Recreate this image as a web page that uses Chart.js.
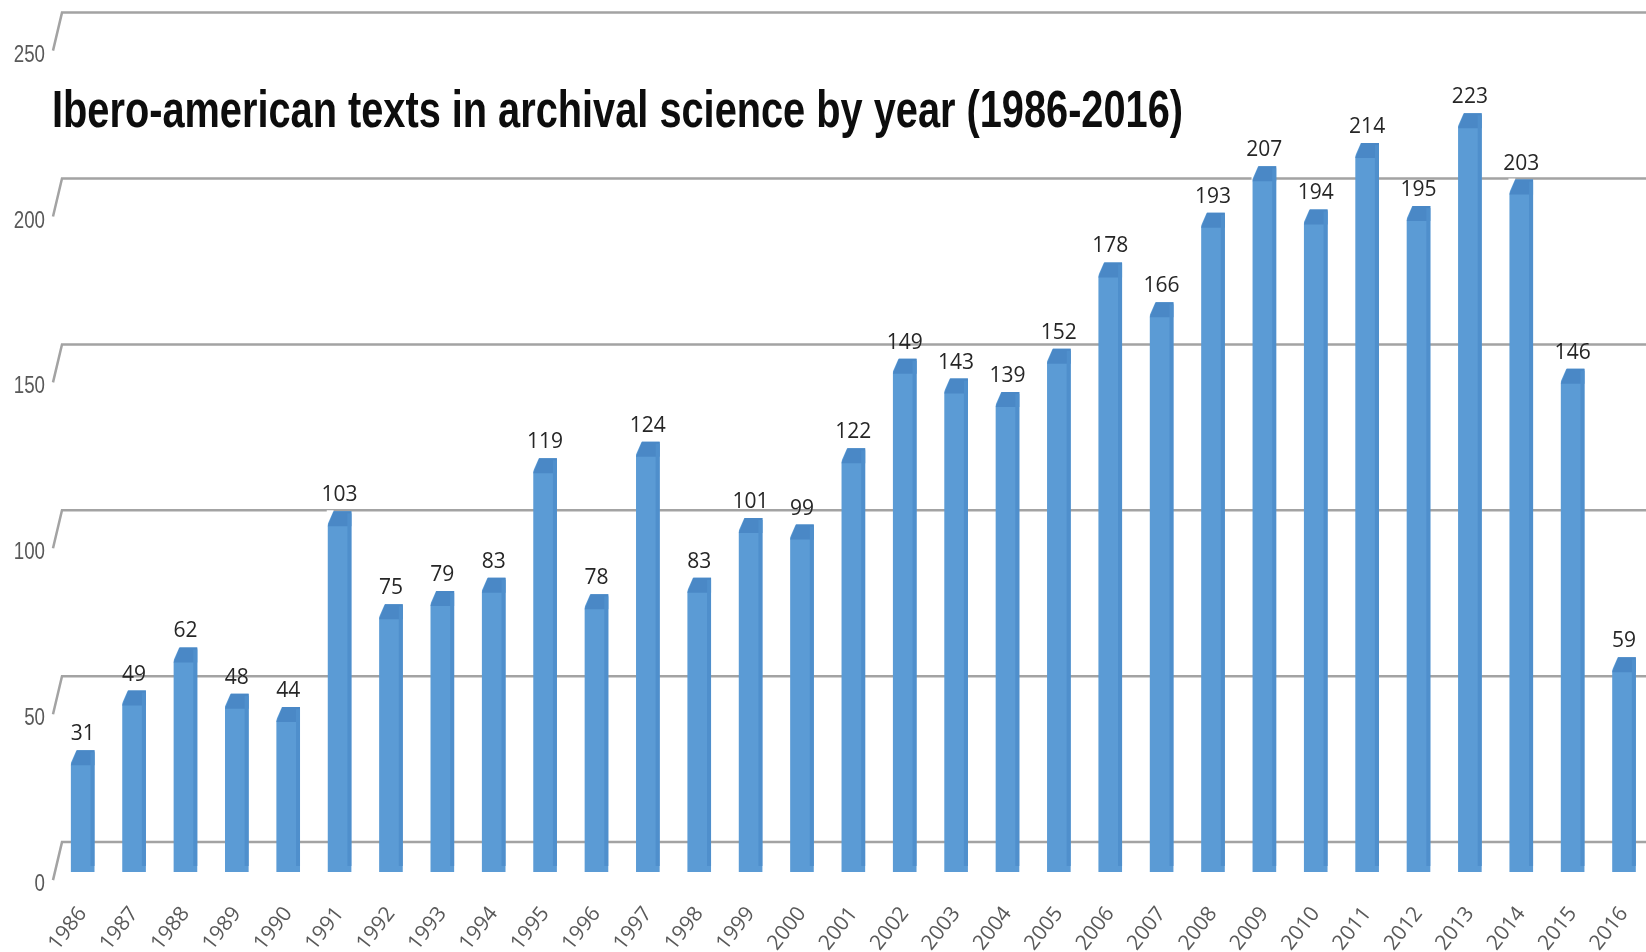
<!DOCTYPE html>
<html lang="en">
<head>
  <meta charset="UTF-8">
  <title>Ibero-american texts in archival science by year</title>
  <script src="https://cdn.jsdelivr.net/npm/chart.js"></script>
  <style>
    html, body { margin: 0; padding: 0; background: #fff; overflow: hidden; }
    #wrap { position: relative; width: 1666px; height: 952px; }
  </style>
</head>
<body>
  <div id="wrap"><canvas id="textsChart"></canvas></div>

  <script>
    // data
    const chartTitle = 'Ibero-american texts in archival science by year (1986-2016)';
    const years = ['1986', '1987', '1988', '1989', '1990', '1991', '1992', '1993', '1994', '1995',
                   '1996', '1997', '1998', '1999', '2000', '2001', '2002', '2003', '2004', '2005',
                   '2006', '2007', '2008', '2009', '2010', '2011', '2012', '2013', '2014', '2015', '2016'];
    const texts = [31, 49, 62, 48, 44, 103, 75, 79, 83, 119,
                   78, 124, 83, 101, 99, 122, 149, 143, 139, 152,
                   178, 166, 193, 207, 194, 214, 195, 223, 203, 146, 59];
    const yTicks = [0, 50, 100, 150, 200, 250];

    const FRONT = '#5b9bd5';
    const CAP = '#4a88c6';
    const SIDE = '#4f8fcc';

    // back wall gridlines, drawn like the 3D chart (slanted stub on the left)
    const wallPlugin = {
      id: 'wall',
      beforeDatasetsDraw(chart) {
        const { ctx, scales: { y }, width } = chart;
        ctx.save();
        ctx.strokeStyle = '#a3a3a3';
        ctx.lineWidth = 2.5;
        yTicks.forEach(v => {
          const yg = y.getPixelForValue(v) - 11;
          ctx.beginPath();
          ctx.moveTo(53, yg + 38);
          ctx.lineTo(62, yg);
          ctx.lineTo(width, yg);
          ctx.stroke();
          // narrow tick label
          ctx.save();
          ctx.translate(45, yg + 49);
          ctx.scale(0.78, 1);
          ctx.font = '24px "Liberation Sans", sans-serif';
          ctx.fillStyle = '#595959';
          ctx.textAlign = 'right';
          ctx.textBaseline = 'alphabetic';
          ctx.fillText(String(v), 0, 0);
          ctx.restore();
        });
        ctx.restore();
      },
      afterDatasetsDraw(chart) {
        const { ctx } = chart;
        const meta = chart.getDatasetMeta(0);
        ctx.save();
        meta.data.forEach((bar, i) => {
          const w = bar.width, l = bar.x - w / 2, r = bar.x + w / 2, t = bar.y;
          // top cap
          ctx.fillStyle = CAP;
          ctx.beginPath();
          ctx.moveTo(l, t + 15);
          ctx.lineTo(l + 6, t);
          ctx.lineTo(r, t);
          ctx.lineTo(r, t + 15);
          ctx.closePath();
          ctx.fill();
          // cut corner
          ctx.fillStyle = '#fff';
          ctx.beginPath();
          ctx.moveTo(l - 1, t - 1);
          ctx.lineTo(l + 6, t - 1);
          ctx.lineTo(l - 1, t + 15);
          ctx.closePath();
          ctx.fill();
          // right side face
          ctx.fillStyle = SIDE;
          ctx.fillRect(r - 4, t + 2, 4, bar.base - t - 8);
          // value label
          ctx.fillStyle = '#262626';
          ctx.font = '21px "Open Sans", "Noto Sans", sans-serif';
          ctx.textAlign = 'center';
          ctx.textBaseline = 'alphabetic';
          ctx.fillText(String(texts[i]), bar.x, t - 10);
        });
        ctx.restore();
      },
      afterDraw(chart) {
        const { ctx } = chart;
        ctx.save();
        ctx.font = 'bold 52px "Liberation Sans", Arial, sans-serif';
        const sx = 1131 / ctx.measureText(chartTitle).width;
        ctx.translate(52, 127);
        ctx.scale(sx, 1);
        ctx.fillStyle = '#0d0d0d';
        ctx.textBaseline = 'alphabetic';
        ctx.fillText(chartTitle, 0, 0);
        ctx.restore();
      }
    };

    new Chart(document.getElementById('textsChart'), {
      type: 'bar',
      data: {
        labels: years,
        datasets: [{
          data: texts,
          backgroundColor: FRONT,
          borderWidth: 0,
          base: -5.7,
          categoryPercentage: 1,
          barPercentage: 0.46
        }]
      },
      options: {
        responsive: true,
        maintainAspectRatio: false,
        animation: false,
        layout: { padding: { left: 57, right: 8, top: 10, bottom: 0 } },
        plugins: {
          legend: { display: false },
          tooltip: { enabled: false }
        },
        scales: {
          y: { display: false, min: -5.7, max: 254.1 },
          x: {
            grid: { display: false },
            border: { display: false },
            afterFit(scale) { scale.height = 80; },
            ticks: {
              minRotation: 52,
              maxRotation: 52,
              padding: 22,
              color: '#595959',
              font: { family: '"Open Sans", "Noto Sans", sans-serif', size: 21 }
            }
          }
        }
      },
      plugins: [wallPlugin]
    });
  </script>
</body>
</html>
